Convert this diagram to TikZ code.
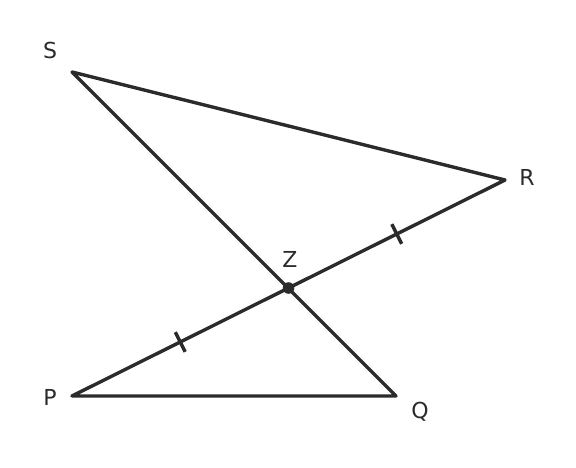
\documentclass[tikz,border=0pt]{standalone}
\usepackage{fontspec}
\setmainfont{DejaVu Sans}
\usetikzlibrary{positioning,calc}

\begin{document}
\begin{tikzpicture}[x=1pt,y=-1pt,
  seg/.style={line width=3.4pt,color=ink,line cap=round,line join=round},
  lbl/.style={text=ink,font=\fontsize{22}{26}\selectfont,inner sep=0pt}]
\definecolor{ink}{HTML}{2B2B2B}
\useasboundingbox (0,0) rectangle (576,468);
%points
\coordinate (S) at (72,72);
\coordinate (R) at (505,180);
\coordinate (P) at (72,396);
\coordinate (Q) at (396,396);
\coordinate (Z) at (288.5,288);
%triangles
\draw[seg] (P)--(Q)--(S)--(R)--(P);
%ticks
\path (P)--(Z) coordinate[pos=0.5] (m1);
\path (Z)--(R) coordinate[pos=0.5] (m2);
\draw[seg,line cap=butt] ($(m1)!11pt!90:(Z)$)--($(m1)!11pt!-90:(Z)$);
\draw[seg,line cap=butt] ($(m2)!11pt!90:(R)$)--($(m2)!11pt!-90:(R)$);
%intersection
\fill[ink] (Z) circle (5.8pt);
%labels
\node[lbl] (lS) at (50,50) {S};
\node[lbl] (lR) at (527,177) {R};
\node[lbl] (lZ) at (290,259) {Z};
\node[lbl] (lP) at (50,397) {P};
\node[lbl] (lQ) at (420,412) {Q};
\end{tikzpicture}
\end{document}
